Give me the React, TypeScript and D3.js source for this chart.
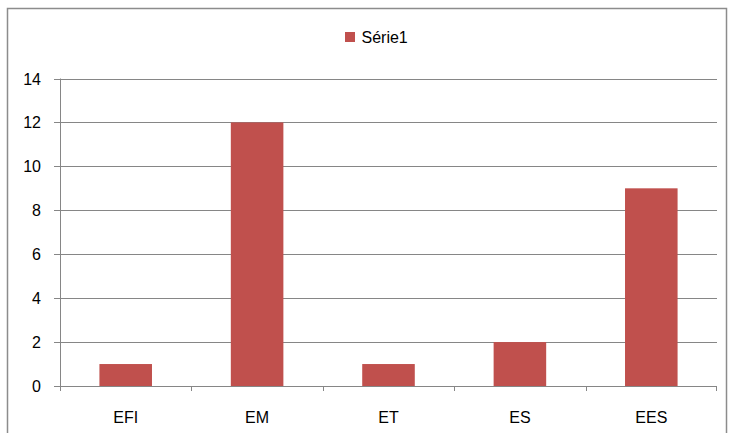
import * as d3 from 'd3';

const categories = ['EFI', 'EM', 'ET', 'ES', 'EES'];
const serie1 = [1, 12, 1, 2, 9];
const yTicks = [0, 2, 4, 6, 8, 10, 12, 14];
const seriesName = 'Série1';

const WIDTH = 731;
const HEIGHT = 433;
const BAR_COLOR = '#C0504D';
const LINE_COLOR = '#868686';
const FONT = '"Liberation Sans", Arial, sans-serif';

export default function App() {
    const plot = {left: 60, right: 717, top: 78.5, bottom: 386};

    const xScale = d3.scaleBand<string>()
        .domain(categories)
        .range([plot.left, plot.right])
        .paddingInner(0.6)
        .paddingOuter(0.3);
    const band = d3.scaleBand<string>().domain(categories).range([plot.left, plot.right]);
    const yScale = d3.scaleLinear().domain([0, 14]).range([plot.bottom, plot.top]);

    return (
        <svg width={WIDTH} height={HEIGHT}
            style={{position: 'fixed', left: 0, top: 0, background: '#fff'}}>
            <rect x={7.5} y={8.5} width={719} height={440} fill="#fff" stroke="#8c8c8c" strokeWidth={1.5} />

            {/* legend */}
            <rect x={345} y={32} width={10} height={10} fill={BAR_COLOR} />
            <text x={361.5} y={43} fontFamily={FONT} fontSize={16} fill="#000">{seriesName}</text>

            {/* gridlines + y labels */}
            {yTicks.map((t) => (
                <g key={t}>
                    <line x1={54} x2={plot.right} y1={Math.round(yScale(t)) + 0.5} y2={Math.round(yScale(t)) + 0.5}
                        stroke={LINE_COLOR} strokeWidth={1} />
                    <text x={41} y={yScale(t) + 6} textAnchor="end" fontFamily={FONT} fontSize={16} fill="#000">{t}</text>
                </g>
            ))}

            {/* bars */}
            {categories.map((c, i) => (
                <rect key={c} x={xScale(c)} y={yScale(serie1[i])} width={xScale.bandwidth()}
                    height={yScale(0) - yScale(serie1[i])} fill={BAR_COLOR} />
            ))}

            {/* axes */}
            <line x1={plot.left + 0.5} x2={plot.left + 0.5} y1={plot.top} y2={plot.bottom + 5} stroke={LINE_COLOR} />
            <line x1={54} x2={plot.right} y1={Math.round(plot.bottom) + 0.5} y2={Math.round(plot.bottom) + 0.5} stroke={LINE_COLOR} />
            {categories.map((c) => (
                <line key={c} x1={Math.round(band(c)!) + 0.5} x2={Math.round(band(c)!) + 0.5}
                    y1={plot.bottom} y2={plot.bottom + 5} stroke={LINE_COLOR} />
            ))}
            <line x1={plot.right - 0.5} x2={plot.right - 0.5} y1={plot.bottom} y2={plot.bottom + 5} stroke={LINE_COLOR} />
            {categories.map((c) => (
                <text key={c} x={band(c)! + band.bandwidth() / 2} y={423} textAnchor="middle"
                    fontFamily={FONT} fontSize={16} fill="#000">{c}</text>
            ))}
        </svg>
    );
}
